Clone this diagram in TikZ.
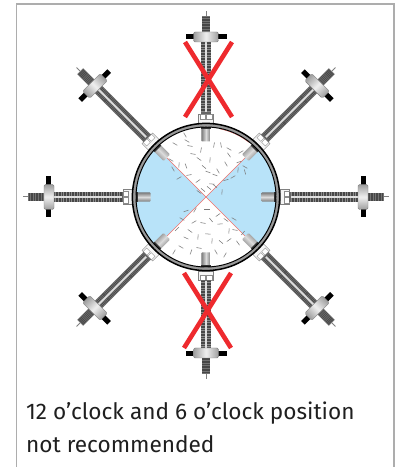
\documentclass[tikz,border=0pt]{standalone}
\usepackage{fontspec}
\setmainfont{Fira Sans}
\definecolor{blu}{HTML}{B8E3F9}
\definecolor{crimson}{HTML}{EE2A2E}
\definecolor{thinred}{HTML}{F0706A}
\tikzset{
  xcross/.style={crimson,line width=4.6bp},
  ring/.style={line width=1.3bp,black},
  flakes/.style={line width=.55bp,black!52},
  caption/.style={anchor=base west,inner sep=0pt,font=\fontsize{22.7}{26}\selectfont,text=black!88},
  frameline/.style={black!32,line width=1.1bp},
}
\newcommand{\assembly}[2]{% angle, radial offset
 \begin{scope}[shift={(206,270)},rotate=#1]
  % rod
  \fill[black!45] (84,-5.2) rectangle (153+#2,5.2);
  \draw[black!72,line width=3.4bp,dash pattern=on .9bp off .7bp] (84,3.1)--(153+#2,3.1);
  \draw[black!72,line width=3.4bp,dash pattern=on .9bp off .7bp] (84,-3.1)--(153+#2,-3.1);
  \fill[black!12] (84,-.8) rectangle (153+#2,.8);
  % threaded end
  \draw[black!50,line width=1bp] (178+#2,0)--(183+#2,0);
  \fill[black!55] (160+#2,-4.2) rectangle (178+#2,4.2);
  \draw[black!72,line width=7.6bp,dash pattern=on .8bp off .8bp] (160+#2,0)--(177+#2,0);
  % handle
  \fill[black] (155+#2,-20.5) rectangle (160+#2,20.5);
  % disc
  \shade[top color=black!38,bottom color=black!38,middle color=black!6,shading angle=#1,draw=black!50,line width=.4bp,rounded corners=1.5bp]
     (152+#2,-12.5) rectangle (162+#2,12.5);
  % flange block
  \filldraw[fill=black!4,draw=black!50,line width=.45bp] (74,-7.5) rectangle (83,7.5);
  \filldraw[fill=white,draw=black!45,line width=.35bp] (78,-6) rectangle (83,-.6);
  \filldraw[fill=white,draw=black!45,line width=.35bp] (78,.6) rectangle (83,6);
  \fill[black!60] (83,-5.2) rectangle (84.5,5.2);
 \end{scope}}
\newcommand{\probe}[1]{%
 \begin{scope}[shift={(206,270)},rotate=#1]
  \shade[top color=black!52,bottom color=black!52,middle color=black!14,shading angle=#1,rounded corners=.8bp]
     (55.5,-4.6) rectangle (70,4.6);
  \fill[black!80] (68,-4.6) rectangle (70,4.6);
 \end{scope}}
\begin{document}
\begin{tikzpicture}[x=1bp,y=1bp]
\useasboundingbox (0,0) rectangle (397,467);
\fill[white] (0,0) rectangle (397,467);
% frame
\draw[frameline] (16.5,0)--(16.5,463)--(394,463)--(394,0);
% assemblies
\foreach \a/\o in {0/0,45/0,135/0,180/0,225/0,315/0,90/3,270/-1}{\assembly{\a}{\o}}
% vessel interior
\fill[white] (206,270) circle (70);
\begin{scope}[shift={(206,270)}]
 \fill[blu] (0,0)--(-45:70) arc (-45:45:70)--cycle;
 \fill[blu] (0,0)--(135:70) arc (135:225:70)--cycle;
 \draw[thinred,line width=.6bp] (135:70)--(-45:70);
 \draw[thinred,line width=.6bp] (45:70)--(225:70);
 \draw[thinred,line width=.6bp] (52:69.5) arc (52:78:69.5);
 % loose particles (x, y relative to the centre, angle)
 \foreach \x/\y/\t in {
  -21/62/-60, -31/53/-30, -19/56/-30, -16/51/-10, -5/47/80, 8/52/80, 15/52/100, 23/48/-30,
  23/42/-55, 35/45/30, 33/35/20, 39/30/-30, 32/27/85, 39/25/-75, 20/33/-60, 12/26/-60,
  4/37/85, -2/30/-40, -7/38/-35, -13/43/-10, -20/31/-70, -27/32/85, -35/37/-30,
  -33/28/-60, -17/22/10, -27/19/30, -8/16/35, -3/7/-40, -7/5/-35, 6/13/-5, 2/25/-20, 9/22/-20,
  20/17/15, 27/20/30, 3/9/-40, 9/11/-40, 16/5/85,
  -20/-14/20, -11/-13/60, 1/-12/0, -3/-26/-10, -12/-25/30, -16/-34/-35, -24/-22/-30, -29/-32/45,
  -20/-41/-25, -8/-40/85, 2/-37/-5, 12/-18/35, 20/-23/-35, 29/-33/-10, 23/-34/85, 37/-36/50,
  23/-43/35, 32/-46/-55, 15/-45/-40, 6/-44/85, -7/-51/-10, -15/-55/70, -25/-50/-30, -32/-55/60,
  10/-55/-60, 19/-58/60, -2/-60/85, 14/-27/5, 5/-23/-50, 28/-22/-30}
  {\draw[flakes] (\x,\y) ++(\t:-2.6) -- ++(\t:5.2);}
\end{scope}
% probes
\foreach \a in {0,45,90,135,180,225,270,315}{\probe{\a}}
% vessel wall
\draw[black!40,line width=3bp] (206,270) circle (71.8);
\draw[ring,line width=1.5bp] (206,270) circle (73.6);
\draw[ring,line width=1bp] (206,270) circle (70);
% crosses
\draw[xcross] (185,425)--(232,350);
\draw[xcross] (232,425)--(185,350);
\draw[xcross] (184,194)--(231,119);
\draw[xcross] (231,194)--(184,119);
% caption
\node[caption] (line1) at (26,47) {12 o'clock and 6 o'clock position};
\node[caption] (line2) at (26,14) {not recommended};
\end{tikzpicture}
\end{document}
